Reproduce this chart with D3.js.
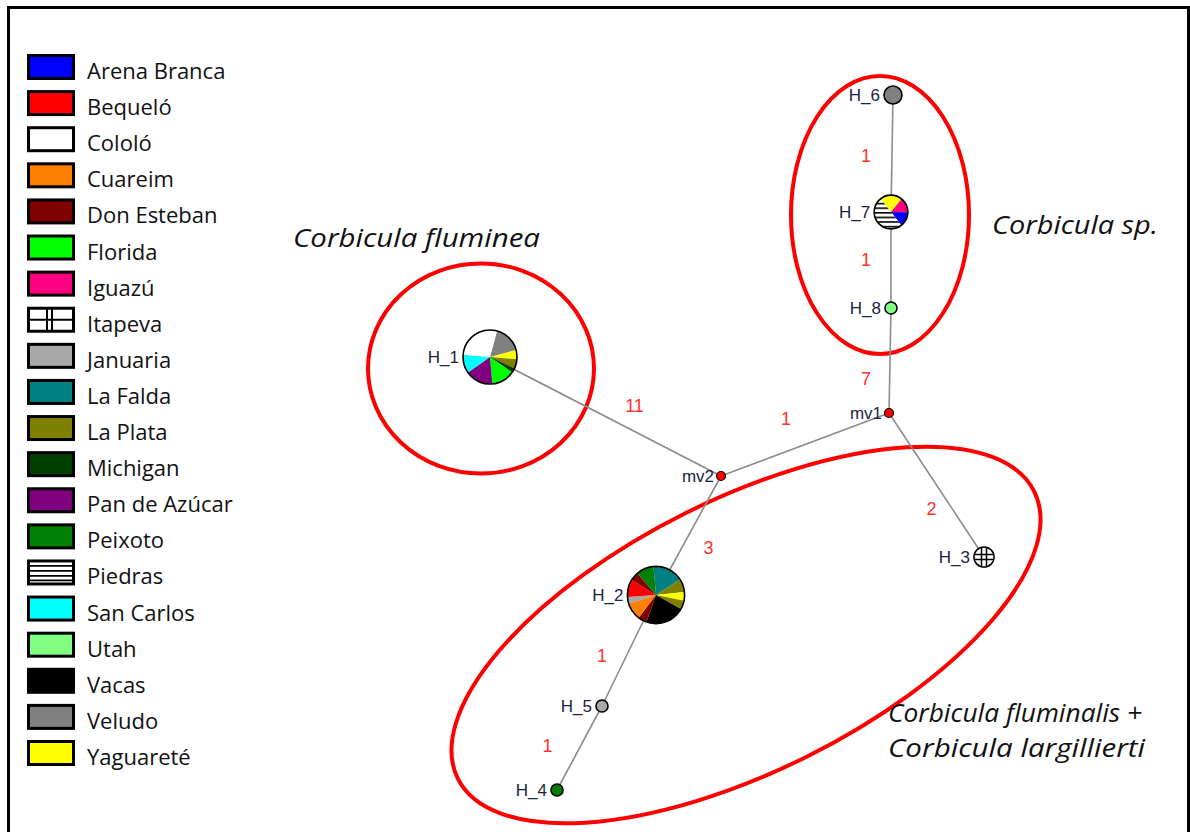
<!DOCTYPE html>
<html><head><meta charset="utf-8">
<script src="https://cdn.jsdelivr.net/npm/d3@7"></script>
<style>html,body{margin:0;padding:0;background:#fff;overflow:hidden}</style>
</head><body>
<svg id="c" width="1190" height="832"></svg>
<script>
// ---- data ----
const populations = ["Arena Branca","Bequeló","Cololó","Cuareim","Don Esteban","Florida","Iguazú","Itapeva","Januaria","La Falda","La Plata","Michigan","Pan de Azúcar","Peixoto","Piedras","San Carlos","Utah","Vacas","Veludo","Yaguareté"];
const popColors = ["#0000ff","#ff0000","#ffffff","#ff8000","#800000","#00ff00","#ff0080","pattern-grid","#a8a8a8","#008080","#808000","#004000","#800080","#008000","pattern-stripes","#00ffff","#80ff80","#000000","#808080","#ffff00"];

// haplotype nodes: layout coordinates (network units)
const nodeNames = ["H_1","H_2","H_3","H_4","H_5","H_6","H_7","H_8","mv1","mv2"];
const nodeX = [0, 16.6, 49.4, 6.7, 11.2, 40.3, 40.1, 40.1, 39.9, 23.1];
const nodeY = [26.2, 50.0, 46.2, 69.5, 61.1, 0, 11.7, 21.3, 31.8, 38.1];

// population composition of each haplotype (pie sectors, clockwise)
const compH1 = [["Veludo",6],["Yaguareté",2],["La Plata",2],["Michigan",1],["Florida",5],["Pan de Azúcar",6],["San Carlos",4],["Cololó",10]];
const compH2 = [["La Falda",7],["La Plata",3],["Yaguareté",2],["La Plata",2],["Vacas",9],["Don Esteban",2],["Cuareim",4],["Januaria",1.5],["Bequeló",4],["Don Esteban",2],["Peixoto",4]];
const compH3 = [["Itapeva",5]];
const compH4 = [["Peixoto",1.8]];
const compH5 = [["Januaria",1.8]];
const compH6 = [["Veludo",4]];
const compH7 = [["Yaguareté",3],["Iguazú",2],["Arena Branca",2],["Piedras",7]];
const compH8 = [["Utah",1.8]];
const startDeg = {H_1:15, H_2:-5, H_7:-38};

// links and mutation counts
const linkSource = ["H_6","H_7","H_8","mv1","mv2","mv1","mv2","H_2","H_5"];
const linkTarget = ["H_7","H_8","mv1","mv2","H_1","H_3","H_2","H_5","H_4"];
const mutations  = ["1","1","7","1","11","2","3","1","1"];

// group annotations
const groupNames = ["Corbicula fluminea","Corbicula sp.","Corbicula fluminalis +","Corbicula largillierti"];

// ---- drawing ----
const svg = d3.select("#c");
const x = d3.scaleLinear().domain([0, 60]).range([490, 1090]);
const y = d3.scaleLinear().domain([0, 70]).range([95, 795]);
const rScale = d3.scaleSqrt().domain([0, 36]).range([0, 27]);

const colorOf = p => {
  const c = popColors[populations.indexOf(p)];
  return c.startsWith("pattern") ? `url(#${c})` : c;
};

const defs = svg.append("defs");
const stripes = defs.append("pattern").attr("id","pattern-stripes").attr("patternUnits","userSpaceOnUse")
  .attr("width",8).attr("height",4.6);
stripes.append("rect").attr("width",8).attr("height",4.6).attr("fill","#fff");
stripes.append("rect").attr("y",0).attr("width",8).attr("height",1.6).attr("fill","#000");

// frame
svg.append("path").attr("d","M8.5,840 V7.5 H1188.5 V840").attr("fill","none").attr("stroke","#000").attr("stroke-width",3);

// legend
const leg = d3.scalePoint().domain(populations).range([54, 740]);
const lg = svg.append("g").selectAll("g").data(populations).join("g")
  .attr("transform", p => `translate(0,${leg(p)})`);
lg.each(function(p){
  const g = d3.select(this);
  const c = popColors[populations.indexOf(p)];
  if (c === "pattern-stripes") {
    g.append("rect").attr("x",28.5).attr("y",1.5).attr("width",45).attr("height",23).attr("fill","#fff");
    [6.5,11.5,16.5,21].forEach(v => g.append("line").attr("x1",28).attr("x2",74).attr("y1",v).attr("y2",v).attr("stroke","#000").attr("stroke-width",1.8));
    g.append("rect").attr("x",28.5).attr("y",1.5).attr("width",45).attr("height",23).attr("fill","none").attr("stroke","#000").attr("stroke-width",3);
  } else if (c === "pattern-grid") {
    g.append("rect").attr("x",28.5).attr("y",1.5).attr("width",45).attr("height",23).attr("fill","#fff").attr("stroke","#000").attr("stroke-width",3);
    g.append("line").attr("x1",28).attr("x2",74).attr("y1",13).attr("y2",13).attr("stroke","#000").attr("stroke-width",2);
    [47,52].forEach(v => g.append("line").attr("x1",v).attr("x2",v).attr("y1",1).attr("y2",25).attr("stroke","#000").attr("stroke-width",2));
  } else {
    g.append("rect").attr("x",28.5).attr("y",1.5).attr("width",45).attr("height",23).attr("fill",c).attr("stroke","#000").attr("stroke-width",3);
  }
  g.append("text").attr("x",87).attr("y",25).text(p)
    .attr("font-family","'Open Sans', sans-serif").attr("font-size",22).attr("fill","#111");
});

// group ellipses
const eg = svg.append("g").attr("fill","none").attr("stroke","#ff0000").attr("stroke-width",4);
eg.append("ellipse").attr("cx",481).attr("cy",368.5).attr("rx",113).attr("ry",105);
eg.append("ellipse").attr("cx",880).attr("cy",215).attr("rx",89).attr("ry",139);
eg.append("ellipse").attr("cx",0).attr("cy",0).attr("rx",322).attr("ry",136)
  .attr("transform","translate(746,635) rotate(-26.5)");

// links
const pos = n => { const i = nodeNames.indexOf(n); return [x(nodeX[i]), y(nodeY[i])]; };
const links = linkSource.map((s,i) => ({s, t: linkTarget[i], m: mutations[i]}));
svg.append("g").selectAll("line").data(links).join("line")
  .attr("x1", d => pos(d.s)[0]).attr("y1", d => pos(d.s)[1])
  .attr("x2", d => pos(d.t)[0]).attr("y2", d => pos(d.t)[1])
  .attr("stroke","#8c8c8c").attr("stroke-width",1.6);

// mutation labels (offset from link midpoints)
const labOff = [[-26,2],[-25,0],[-24,18],[-19,-26],[29,-11],[-5,24],[20,12],[-27,5],[-32,-2]];
svg.append("g").selectAll("text").data(links).join("text")
  .attr("x",(d,i) => (pos(d.s)[0]+pos(d.t)[0])/2 + labOff[i][0])
  .attr("y",(d,i) => (pos(d.s)[1]+pos(d.t)[1])/2 + labOff[i][1])
  .attr("text-anchor","middle").attr("dominant-baseline","central")
  .attr("font-family","'Liberation Sans', Arial, sans-serif").attr("font-size",18).attr("fill","#ff3030")
  .text(d => d.m);

// haplotype pies
const comps = {H_1:compH1,H_2:compH2,H_3:compH3,H_4:compH4,H_5:compH5,H_6:compH6,H_7:compH7,H_8:compH8};
const ng = svg.append("g");
Object.keys(comps).forEach(h => {
  const comp = comps[h];
  const total = d3.sum(comp, d => d[1]);
  const r = rScale(total);
  const [cx, cy] = pos(h);
  const g = ng.append("g").attr("transform",`translate(${cx},${cy})`);
  const st = (startDeg[h] || 0) * Math.PI/180;
  const pie = d3.pie().sort(null).value(d => d[1]).startAngle(st).endAngle(st + 2*Math.PI);
  const arc = d3.arc().innerRadius(0).outerRadius(r);
  if (comp.length === 1 && comp[0][0] === "Itapeva") {
    g.append("circle").attr("r",r).attr("fill","#fff");
    const clipId = "clip"+h;
    defs.append("clipPath").attr("id",clipId).append("circle").attr("cx",cx).attr("cy",cy).attr("r",r);
    const lines = svg.append("g").attr("clip-path",`url(#${clipId})`);
    [-2.5,2.5].forEach(o => {
      lines.append("line").attr("x1",cx-r).attr("x2",cx+r).attr("y1",cy+o).attr("y2",cy+o).attr("stroke","#000").attr("stroke-width",1.5);
      lines.append("line").attr("y1",cy-r).attr("y2",cy+r).attr("x1",cx+o).attr("x2",cx+o).attr("stroke","#000").attr("stroke-width",1.5);
    });
    svg.append("circle").attr("cx",cx).attr("cy",cy).attr("r",r).attr("fill","none").attr("stroke","#000").attr("stroke-width",1.5);
  } else {
    g.selectAll("path").data(pie(comp)).join("path").attr("d",arc)
      .attr("fill", d => colorOf(d.data[0]));
    g.append("circle").attr("r",r).attr("fill","none").attr("stroke","#000").attr("stroke-width",1.6);
  }
  svg.append("text").attr("x",cx - r - 4).attr("y",cy).attr("text-anchor","end").attr("dominant-baseline","central")
    .attr("font-family","'Liberation Sans', Arial, sans-serif").attr("font-size",17).attr("fill","#1c2340").text(h);
});

// median vectors
["mv1","mv2"].forEach(m => {
  const [cx, cy] = pos(m);
  svg.append("circle").attr("cx",cx).attr("cy",cy).attr("r",4.5).attr("fill","#ff0000").attr("stroke","#000").attr("stroke-width",1.2);
  svg.append("text").attr("x",cx - 7).attr("y",cy).attr("text-anchor","end").attr("dominant-baseline","central")
    .attr("font-family","'Liberation Sans', Arial, sans-serif").attr("font-size",17).attr("fill","#1c2340").text(m);
});

// group titles
const tf = "'Open Sans', sans-serif";
const titles = [[groupNames[0],293,247,247],[groupNames[1],992,234,166],[groupNames[2],888,722,254],[groupNames[3],888,757,257]];
svg.append("g").selectAll("text").data(titles).join("text")
  .attr("x", d => d[1]).attr("y", d => d[2]).text(d => d[0])
  .attr("textLength", d => d[3]).attr("lengthAdjust","spacingAndGlyphs")
  .attr("font-family",tf).attr("font-style","italic").attr("font-size",26).attr("fill","#111");
</script>
</body></html>
